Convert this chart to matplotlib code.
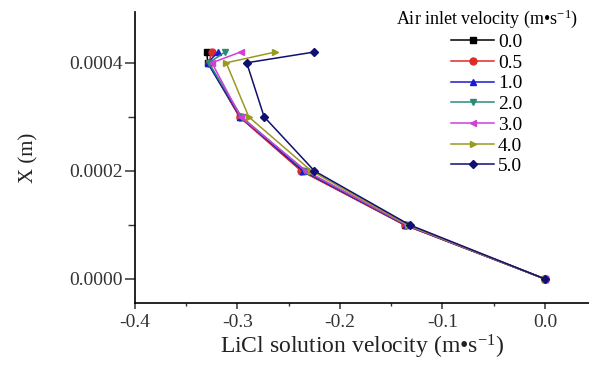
import matplotlib
matplotlib.use("Agg")
import matplotlib.pyplot as plt
from matplotlib.ticker import MultipleLocator, FormatStrFormatter

X = [0.0, 0.0001, 0.0002, 0.0003, 0.0004, 0.00042]
labels = ["0.0", "0.5", "1.0", "2.0", "3.0", "4.0", "5.0"]
v00 = [0.0, -0.137, -0.237, -0.298, -0.329, -0.330]
v05 = [0.0, -0.137, -0.238, -0.298, -0.328, -0.325]
v10 = [0.0, -0.136, -0.236, -0.297, -0.329, -0.319]
v20 = [0.0, -0.135, -0.234, -0.296, -0.328, -0.312]
v30 = [0.0, -0.135, -0.233, -0.297, -0.325, -0.297]
v40 = [0.0, -0.134, -0.228, -0.289, -0.311, -0.263]
v50 = [0.0, -0.132, -0.225, -0.274, -0.291, -0.225]
series = [v00, v05, v10, v20, v30, v40, v50]
colors = ["#000000", "#e02a2a", "#1a1ad0", "#2a8a7a", "#d040d8", "#9a9a20", "#101070"]
markers = ["s", "o", "^", "v", "<", ">", "D"]

plt.rcParams['font.family'] = ['Liberation Serif', 'DejaVu Serif']
plt.rcParams['mathtext.fontset'] = 'custom'
plt.rcParams['mathtext.rm'] = 'Liberation Serif'
plt.rcParams['mathtext.it'] = 'Liberation Serif:italic'
plt.rcParams['mathtext.default'] = 'rm'
fig = plt.figure(figsize=(5.89, 3.65), dpi=100)
ax = fig.add_axes([135/589, 1-303/365, (589-135)/589, (303-12)/365])
for lab, vals, c, m in zip(labels, series, colors, markers):
    ax.plot(vals, X, color=c, marker=m, markersize=5 if m != "D" else 4.5, lw=1.1, label=lab)

ax.set_xlim(-0.4, 0.043)
ax.set_ylim(-0.0000445, 0.000494)
ax.xaxis.set_major_locator(MultipleLocator(0.1))
ax.xaxis.set_minor_locator(MultipleLocator(0.05))
ax.yaxis.set_major_locator(MultipleLocator(0.0002))
ax.yaxis.set_minor_locator(MultipleLocator(0.0001))
ax.xaxis.set_major_formatter(FormatStrFormatter('%.1f'))
ax.yaxis.set_major_formatter(FormatStrFormatter('%.4f'))
ax.spines['top'].set_visible(False)
ax.spines['right'].set_visible(False)
for s in ['left', 'bottom']:
    ax.spines[s].set_linewidth(1.2)
ax.tick_params(which='both', direction='out', labelsize=14, color='#333333', labelcolor='#333333')
ax.tick_params(axis='x', which='major', length=4, width=1.1, pad=4)
ax.tick_params(axis='x', which='minor', length=2.5, width=1.0)
ax.tick_params(axis='y', which='major', length=7, width=1.1, pad=2)
ax.tick_params(axis='y', which='minor', length=5, width=1.0)
ax.set_xlabel("LiCl solution velocity (m•s$^{-1}$)", fontsize=17, labelpad=1, color='#222222')
ax.set_ylabel("X (m)", fontsize=15, labelpad=22, color='#222222')
leg = ax.legend(title="Air inlet velocity (m•s$^{-1}$)", loc='upper center',
                bbox_to_anchor=(0.775, 1.055), frameon=False, fontsize=14,
                title_fontsize=13, handlelength=2.2, labelspacing=0.16,
                handletextpad=0.2, borderaxespad=0.2)
fig.savefig("out.png", dpi=100)
